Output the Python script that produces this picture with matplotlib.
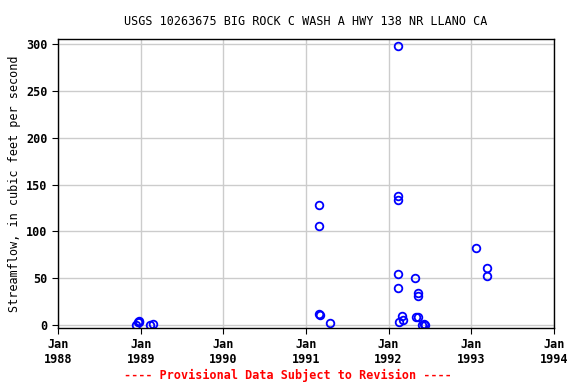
import matplotlib
matplotlib.use("Agg")
import matplotlib.pyplot as plt
import matplotlib.dates as mdates
import pandas as pd

dates = ["1988-12-10", "1988-12-18", "1988-12-22", "1988-12-26", "1989-02-12", "1989-02-26",
         "1991-02-28", "1991-02-28", "1991-03-01", "1991-03-03", "1991-04-15",
         "1992-02-10", "1992-02-10", "1992-02-11", "1992-02-10", "1992-02-11",
         "1992-02-18", "1992-03-02", "1992-03-06",
         "1992-04-28", "1992-05-08", "1992-05-10", "1992-04-30", "1992-05-10",
         "1992-05-28", "1992-06-05", "1992-06-12",
         "1993-01-20", "1993-03-12", "1993-03-10"]
flow = [0.5, 3, 4, 3.5, 0, 1,
        128, 106, 11.5, 10.5, 2,
        298, 138, 134, 55, 40,
        3, 10, 5,
        50, 34, 31, 8.5, 8.5,
        0, 1, 0,
        82, 61, 52]

x = pd.to_datetime(dates)

plt.rcParams['font.family'] = ['DejaVu Sans Mono']
plt.rcParams['font.weight'] = 'bold'

fig = plt.figure(figsize=(5.76, 3.84), dpi=100)
ax = fig.add_axes([58 / 576, 1 - 328 / 384, 496 / 576, 289 / 384])

ax.plot(x, flow, 'o', mfc='none', mec='blue', ms=5.5, mew=1.3, ls='none')

ax.set_xlim(pd.Timestamp("1988-01-01"), pd.Timestamp("1994-01-01"))
ax.set_ylim(-3.2, 305.5)
ax.set_yticks([0, 50, 100, 150, 200, 250, 300])
ax.xaxis.set_major_locator(mdates.YearLocator())
ax.xaxis.set_major_formatter(mdates.DateFormatter("Jan\n%Y"))
ax.grid(True, color='#cccccc', lw=1)
ax.set_axisbelow(True)
ax.tick_params(labelsize=8.5, length=4)
for s in ax.spines.values():
    s.set_linewidth(1)

ax.set_title("USGS 10263675 BIG ROCK C WASH A HWY 138 NR LLANO CA", fontsize=8.5, pad=10)
ax.set_ylabel("Streamflow, in cubic feet per second", fontsize=8.5)
fig.text(0.5, 0.012, "---- Provisional Data Subject to Revision ----",
         color='red', ha='center', fontsize=8.5, fontweight='bold')

fig.savefig("out.png", dpi=100)
